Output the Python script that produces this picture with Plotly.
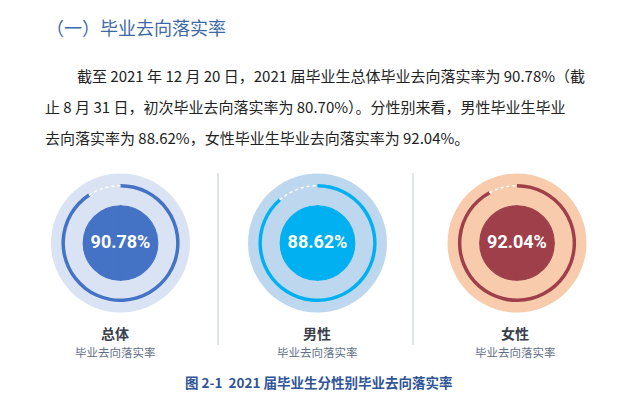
import numpy as np
import plotly.graph_objects as go

W, H = 628, 410

# ---- data ----
categories = ["总体", "男性", "女性"]
rates = [90.78, 88.62, 92.04]
subtitle = "毕业去向落实率"
title_text = "（一）毕业去向落实率"
para_lines = [
    "截至 2021 年 12 月 20 日，2021 届毕业生总体毕业去向落实率为 90.78%（截",
    "止 8 月 31 日，初次毕业去向落实率为 80.70%）。分性别来看，男性毕业生毕业",
    "去向落实率为 88.62%，女性毕业生毕业去向落实率为 92.04%。",
]
caption = "图 2-1  2021 届毕业生分性别毕业去向落实率"

# ---- style ----
light_colors = ["#dae3f3", "#bdd7ee", "#f8cbad"]
dark_colors = ["#4472c4", "#00b0f0", "#9e3f4a"]
centers_x = [112.5, 309.5, 509.0]
center_y = 235.0
R = 69.5
label_x = [107, 309, 507]
cjk = "Noto Sans CJK SC"

fig = go.Figure()

for i, (cat, v) in enumerate(zip(categories, rates)):
    pid = "polar" if i == 0 else f"polar{i+1}"
    sub = pid
    span = v * 3.6
    # inner disc
    fig.add_trace(go.Barpolar(
        r=[0.536, 0.536], theta=[90, 270], width=[180, 180], base=[0, 0],
        marker=dict(color=dark_colors[i], line=dict(color=dark_colors[i], width=1.2)),
        subplot=sub, showlegend=False, hoverinfo="skip"))
    # progress arc
    fig.add_trace(go.Barpolar(
        r=[0.05], base=[0.80], theta=[span / 2], width=[span],
        marker=dict(color=dark_colors[i], line=dict(width=0)),
        subplot=sub, showlegend=False, hoverinfo="skip"))
    # dotted remainder
    th = np.linspace(span, 360, 30)
    fig.add_trace(go.Scatterpolar(
        r=[0.825] * len(th), theta=th, mode="lines",
        line=dict(color="white", width=1.5, dash="dot"),
        subplot=sub, showlegend=False, hoverinfo="skip"))
    # value text
    fig.add_trace(go.Scatterpolar(
        r=[0], theta=[0], mode="text", text=[f"{v:.2f}%"],
        textfont=dict(family="Roboto, sans-serif", size=18,
                      color="white", weight="bold"),
        subplot=sub, showlegend=False, hoverinfo="skip"))

    cx = centers_x[i]
    fig.update_layout(**{pid: dict(
        domain=dict(x=[(cx - R) / W, (cx + R) / W],
                    y=[1 - (center_y + R) / H, 1 - (center_y - R) / H]),
        bgcolor=light_colors[i],
        hole=0,
        radialaxis=dict(range=[0, 1], visible=False, showgrid=False),
        angularaxis=dict(visible=False, rotation=90, direction="clockwise", showgrid=False),
        barmode="overlay",
    )})

annotations = []
# header
annotations.append(dict(x=36 / W, y=1 - 19 / H, xref="paper", yref="paper",
                        xanchor="left", yanchor="middle", showarrow=False,
                        text=title_text, font=dict(family=cjk, size=18, color="#3c6aa8")))
# paragraph
para_pos = [(67, 67), (35, 98), (35, 129)]
for (px, py), line in zip(para_pos, para_lines):
    annotations.append(dict(x=px / W, y=1 - py / H, xref="paper", yref="paper",
                            xanchor="left", yanchor="middle", showarrow=False,
                            text=line, font=dict(family=cjk, size=15, color="#222222")))
# labels
for i, cat in enumerate(categories):
    annotations.append(dict(x=label_x[i] / W, y=1 - 325 / H, xref="paper", yref="paper",
                            xanchor="center", yanchor="middle", showarrow=False,
                            text=f"<b>{cat}</b>", font=dict(family=cjk, size=14, color="#3a3f4b")))
    annotations.append(dict(x=label_x[i] / W, y=1 - 344 / H, xref="paper", yref="paper",
                            xanchor="center", yanchor="middle", showarrow=False,
                            text=subtitle, font=dict(family=cjk, size=11.5, color="#5f6f88")))
# caption
annotations.append(dict(x=311 / W, y=1 - 374 / H, xref="paper", yref="paper",
                        xanchor="center", yanchor="middle", showarrow=False,
                        text=f"<b>{caption}</b>", font=dict(family=cjk, size=13.5, color="#2f5597")))

shapes = []
for dx in [210, 405]:
    shapes.append(dict(type="line", xref="paper", yref="paper",
                       x0=dx / W, x1=dx / W, y0=1 - 165 / H, y1=1 - 337 / H,
                       line=dict(color="#d6dbe5", width=1.5)))

fig.update_layout(width=W, height=H, margin=dict(l=0, r=0, t=0, b=0),
                  paper_bgcolor="white", plot_bgcolor="white",
                  annotations=annotations, shapes=shapes, showlegend=False)

fig.write_html("out.html")
